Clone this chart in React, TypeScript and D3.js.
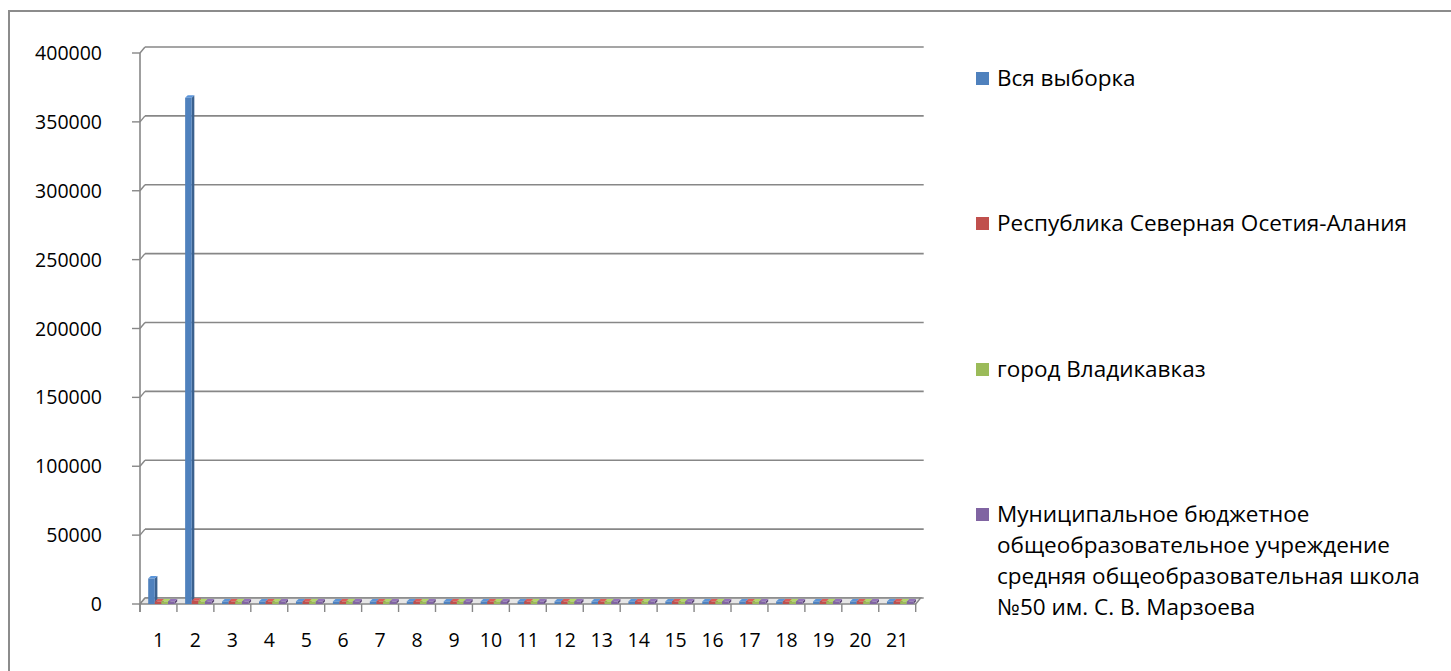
import * as d3 from "d3";

const categories = d3.range(1, 22).map(String);
const seriesNames = [
  "Вся выборка",
  "Республика Северная Осетия-Алания",
  "город Владикавказ",
  "Муниципальное бюджетное общеобразовательное учреждение средняя общеобразовательная школа №50 им. С. В. Марзоева",
];
const legendLines = [
  ["Вся выборка"],
  ["Республика Северная Осетия-Алания"],
  ["город Владикавказ"],
  ["Муниципальное бюджетное", "общеобразовательное учреждение", "средняя общеобразовательная школа", "№50 им. С. В. Марзоева"],
];
const colors = ["#4f81bd", "#c0504d", "#9bbb59", "#8064a2"];

// values per category, one array per series
const allSample = [18500, 367500, 60, 55, 50, 62, 48, 58, 52, 57, 61, 49, 54, 59, 47, 63, 51, 56, 53, 58, 50];
const republic = [480, 2300, 62, 57, 52, 64, 50, 60, 54, 59, 63, 51, 56, 61, 49, 65, 53, 58, 55, 60, 52];
const city = [310, 1200, 63, 58, 53, 65, 51, 61, 55, 60, 64, 52, 57, 62, 50, 66, 54, 59, 56, 61, 53];
const school = [20, 60, 70, 60, 55, 68, 52, 63, 57, 62, 66, 54, 59, 64, 52, 68, 56, 61, 58, 63, 55];
const seriesValues = [allSample, republic, city, school];

const yTicks = [0, 50000, 100000, 150000, 200000, 250000, 300000, 350000, 400000];

const W = 1451;
const H = 671;
const FONT = "'Open Sans', sans-serif";
const GRID = "#878787";
const DX = 5;
const DY = -6;

export default function App() {
  const y = d3.scaleLinear().domain([0, 400000]).range([604, 53]);
  const x0 = d3.scaleBand<string>().domain(categories).range([140, 915.7]);
  const x1 = d3.scaleBand<number>().domain(d3.range(seriesNames.length)).range([8.2, 34.6]);
  const front = x1.bandwidth();
  const side = 2.6;

  const left = 140;
  const right = 915.7;

  const shade = (c: string, k: number) => d3.color(c)!.darker(k).formatHex();
  const light = (c: string, k: number) => d3.color(c)!.brighter(k).formatHex();

  return (
    <svg width={W} height={H} style={{ position: "absolute", left: 0, top: 0, background: "#fff" }}>
      <rect x={9} y={11} width={W} height={H} fill="#fff" stroke="#8c8c8c" strokeWidth={2} />

      {/* back wall gridlines */}
      {yTicks.map((t) => (
        <g key={t}>
          <line x1={left + DX} x2={right + DX + 3} y1={y(t) + DY} y2={y(t) + DY} stroke={GRID} strokeWidth={1.6} />
          <line x1={left} x2={left + DX} y1={y(t)} y2={y(t) + DY} stroke={GRID} strokeWidth={1.4} />
          <line x1={left - 8} x2={left} y1={y(t)} y2={y(t)} stroke={GRID} strokeWidth={1.4} />
          <text x={102} y={y(t) + 7} textAnchor="end" fontFamily={FONT} fontSize={19.5} fill="#000">
            {t}
          </text>
        </g>
      ))}
      <line x1={left} x2={left} y1={y(400000)} y2={y(0) + 8} stroke={GRID} strokeWidth={1.6} />

      {/* floor */}
      <polygon
        points={`${left},${y(0)} ${right},${y(0)} ${right + DX},${y(0) + DY} ${left + DX},${y(0) + DY}`}
        fill="#e6e6e6"
        stroke={GRID}
        strokeWidth={1.4}
      />

      {/* bars */}
      {categories.map((c, ci) =>
        seriesValues.map((vals, si) => {
          const bx = (x0(c) ?? 0) + (x1(si) ?? 0);
          const base = y(0);
          const top = Math.min(y(vals[ci]), base - 2.5);
          const col = colors[si];
          return (
            <g key={`${ci}-${si}`}>
              <polygon
                points={`${bx + front},${top} ${bx + front + side},${top - 2.5} ${bx + front + side},${base - 2.5} ${bx + front},${base}`}
                fill={shade(col, 0.8)}
              />
              <polygon
                points={`${bx},${top} ${bx + side},${top - 2.5} ${bx + front + side},${top - 2.5} ${bx + front},${top}`}
                fill={light(col, 0.4)}
              />
              <rect x={bx} y={top} width={front} height={base - top} fill={col} />
            </g>
          );
        })
      )}

      {/* category axis ticks and labels */}
      {categories.map((c) => (
        <line key={`t${c}`} x1={x0(c)} x2={x0(c)} y1={y(0)} y2={y(0) + 8} stroke={GRID} strokeWidth={1.4} />
      ))}
      <line x1={right} x2={right} y1={y(0)} y2={y(0) + 8} stroke={GRID} strokeWidth={1.4} />
      {categories.map((c) => (
        <text
          key={`l${c}`}
          x={(x0(c) ?? 0) + x0.bandwidth() / 2}
          y={647}
          textAnchor="middle"
          fontFamily={FONT}
          fontSize={19.5}
          fill="#000"
        >
          {c}
        </text>
      ))}

      {/* legend */}
      {legendLines.map((lines, i) => {
        const cy = [78, 223, 369, 514][i];
        return (
          <g key={`lg${i}`}>
            <rect x={976} y={cy - 6} width={13} height={13} fill={colors[i]} />
            {lines.map((ln, li) => (
              <text key={li} x={997} y={cy + 8 + li * 31} fontFamily={FONT} fontSize={22.5} fill="#000">
                {ln}
              </text>
            ))}
          </g>
        );
      })}
    </svg>
  );
}
